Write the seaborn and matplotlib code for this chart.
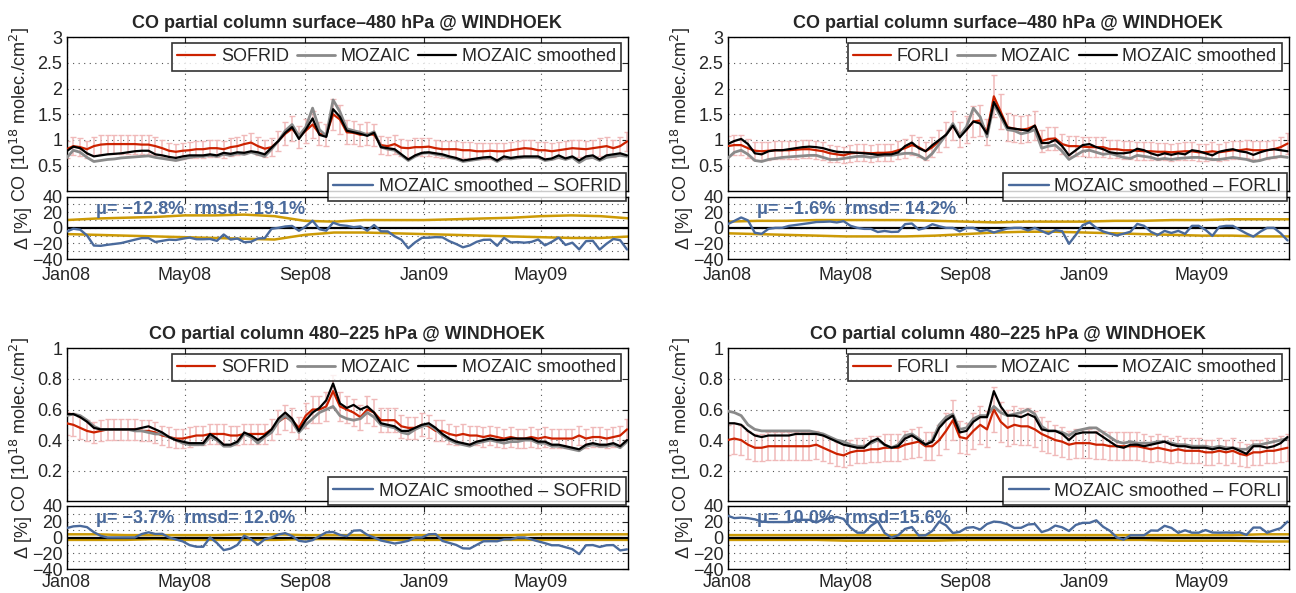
import numpy as np
import pandas as pd
import matplotlib
matplotlib.use('Agg')
import matplotlib.pyplot as plt
import matplotlib.dates as mdates
import seaborn as sns

sns.set_style('white')
plt.rcParams['font.family'] = ['Liberation Sans', 'DejaVu Sans']
plt.rcParams['axes.unicode_minus'] = True

# weekly samples, 1 Jan 2008 .. 28 Jul 2009
dates = pd.date_range('2008-01-01', periods=83, freq='7D')
bound_dates = pd.date_range('2008-01-01', periods=20, freq='MS')

# ---- panel 1: SOFRID, surface-480 hPa ----
p1_sat = [0.82, 0.88, 0.86, 0.82, 0.88, 0.91, 0.92, 0.92, 0.92, 0.92,
          0.92, 0.91, 0.91, 0.88, 0.84, 0.79, 0.77, 0.79, 0.80, 0.82,
          0.82, 0.84, 0.84, 0.82, 0.86, 0.88, 0.92, 0.95, 0.88, 0.83,
          0.86, 0.98, 1.12, 1.22, 1.06, 1.18, 1.30, 1.12, 1.10, 1.50,
          1.40, 1.15, 1.14, 1.10, 1.12, 1.10, 0.90, 0.88, 0.92, 0.85,
          0.84, 0.86, 0.86, 0.87, 0.84, 0.82, 0.82, 0.82, 0.80, 0.80,
          0.78, 0.78, 0.79, 0.78, 0.78, 0.80, 0.82, 0.84, 0.83, 0.80,
          0.80, 0.78, 0.80, 0.82, 0.84, 0.83, 0.82, 0.84, 0.86, 0.88,
          0.84, 0.88, 0.97]
p1_moz = [0.65, 0.80, 0.76, 0.66, 0.58, 0.60, 0.62, 0.63, 0.65, 0.66,
          0.67, 0.68, 0.69, 0.66, 0.64, 0.62, 0.60, 0.63, 0.66, 0.68,
          0.68, 0.70, 0.68, 0.72, 0.70, 0.74, 0.72, 0.76, 0.72, 0.68,
          0.82, 0.98, 1.18, 1.30, 1.08, 1.25, 1.62, 1.20, 1.08, 1.78,
          1.55, 1.22, 1.18, 1.15, 1.10, 1.16, 0.86, 0.82, 0.80, 0.70,
          0.60, 0.68, 0.74, 0.75, 0.72, 0.70, 0.66, 0.63, 0.58, 0.60,
          0.62, 0.64, 0.65, 0.58, 0.65, 0.63, 0.65, 0.66, 0.66, 0.66,
          0.60, 0.62, 0.66, 0.62, 0.66, 0.56, 0.64, 0.66, 0.60, 0.66,
          0.68, 0.70, 0.68]
p1_moz_sm = [0.78, 0.87, 0.84, 0.74, 0.68, 0.70, 0.72, 0.73, 0.74, 0.76,
             0.78, 0.79, 0.79, 0.72, 0.70, 0.67, 0.65, 0.68, 0.70, 0.70,
             0.70, 0.72, 0.70, 0.75, 0.73, 0.76, 0.75, 0.78, 0.76, 0.72,
             0.85, 0.98, 1.14, 1.25, 1.02, 1.20, 1.42, 1.10, 1.06, 1.60,
             1.45, 1.18, 1.15, 1.12, 1.08, 1.14, 0.86, 0.84, 0.82, 0.72,
             0.62, 0.70, 0.75, 0.76, 0.74, 0.72, 0.68, 0.65, 0.60, 0.62,
             0.64, 0.66, 0.67, 0.60, 0.68, 0.65, 0.67, 0.68, 0.68, 0.68,
             0.62, 0.64, 0.70, 0.64, 0.68, 0.60, 0.68, 0.70, 0.62, 0.70,
             0.72, 0.74, 0.70]
p1_bound_hi = [10, 12, 13, 14, 16, 16, 17, 15, 9, 8, 10, 10, 10, 11, 12, 13, 15, 16, 15, 12]
p1_bound_lo = [-8, -9, -10, -11, -12, -13, -14, -15, -9, -6, -6, -7, -8, -9, -10, -11, -12, -13, -13, -11]

# ---- panel 2: FORLI, surface-480 hPa ----
p2_sat = [0.88, 0.90, 0.90, 0.84, 0.79, 0.78, 0.79, 0.80, 0.80, 0.80,
          0.81, 0.82, 0.82, 0.80, 0.78, 0.74, 0.72, 0.70, 0.74, 0.75,
          0.75, 0.74, 0.75, 0.75, 0.76, 0.80, 0.84, 0.90, 0.86, 0.78,
          0.86, 0.98, 1.10, 1.28, 1.10, 1.20, 1.36, 1.38, 1.15, 1.85,
          1.55, 1.25, 1.22, 1.20, 1.22, 1.28, 0.98, 1.02, 1.03, 0.92,
          0.88, 0.88, 0.87, 0.86, 0.86, 0.86, 0.82, 0.82, 0.80, 0.80,
          0.79, 0.78, 0.78, 0.77, 0.77, 0.76, 0.77, 0.78, 0.78, 0.76,
          0.76, 0.78, 0.76, 0.78, 0.80, 0.80, 0.82, 0.80, 0.80, 0.80,
          0.82, 0.86, 0.93]
p2_moz = [0.64, 0.76, 0.80, 0.72, 0.60, 0.58, 0.62, 0.64, 0.66, 0.67,
          0.68, 0.69, 0.70, 0.70, 0.66, 0.62, 0.62, 0.64, 0.66, 0.68,
          0.68, 0.66, 0.68, 0.70, 0.70, 0.72, 0.74, 0.74, 0.70, 0.62,
          0.74, 0.92, 1.10, 1.32, 1.08, 1.26, 1.62, 1.45, 1.06, 1.70,
          1.45, 1.20, 1.18, 1.12, 1.15, 1.20, 0.84, 0.88, 0.90, 0.78,
          0.62, 0.70, 0.78, 0.80, 0.76, 0.72, 0.74, 0.70, 0.66, 0.64,
          0.70, 0.68, 0.66, 0.62, 0.64, 0.62, 0.64, 0.65, 0.66, 0.66,
          0.64, 0.62, 0.62, 0.64, 0.66, 0.64, 0.62, 0.58, 0.60, 0.64,
          0.66, 0.68, 0.66]
p2_moz_sm = [0.92, 0.98, 1.02, 0.92, 0.74, 0.72, 0.78, 0.80, 0.80, 0.82,
             0.84, 0.86, 0.87, 0.86, 0.84, 0.80, 0.77, 0.76, 0.76, 0.75,
             0.74, 0.73, 0.71, 0.72, 0.72, 0.76, 0.88, 0.95, 0.84, 0.78,
             0.90, 1.00, 1.10, 1.28, 1.05, 1.20, 1.36, 1.32, 1.12, 1.74,
             1.50, 1.24, 1.22, 1.20, 1.18, 1.28, 0.94, 0.94, 1.00, 0.88,
             0.70, 0.80, 0.90, 0.92, 0.86, 0.82, 0.76, 0.74, 0.74, 0.76,
             0.83, 0.80, 0.74, 0.70, 0.74, 0.71, 0.74, 0.72, 0.80, 0.78,
             0.74, 0.70, 0.77, 0.80, 0.82, 0.78, 0.76, 0.71, 0.76, 0.80,
             0.82, 0.80, 0.78]
p2_bound_hi = [8, 9, 9, 10, 10, 10, 10, 9, 8, 7, 8, 8, 8, 9, 9, 10, 10, 11, 11, 11]
p2_bound_lo = [-7, -8, -9, -10, -11, -11, -11, -10, -8, -6, -5, -5, -6, -7, -8, -9, -10, -10, -11, -11]

# ---- panel 3: SOFRID, 480-225 hPa ----
p3_sat = [0.51, 0.50, 0.48, 0.46, 0.45, 0.46, 0.47, 0.47, 0.47, 0.47,
          0.47, 0.46, 0.46, 0.45, 0.43, 0.42, 0.41, 0.41, 0.42, 0.43,
          0.43, 0.44, 0.44, 0.44, 0.43, 0.43, 0.44, 0.44, 0.44, 0.44,
          0.47, 0.52, 0.55, 0.53, 0.48, 0.56, 0.60, 0.60, 0.62, 0.72,
          0.62, 0.60, 0.58, 0.55, 0.60, 0.58, 0.53, 0.53, 0.53, 0.49,
          0.48, 0.48, 0.50, 0.49, 0.46, 0.46, 0.44, 0.43, 0.44, 0.43,
          0.43, 0.42, 0.43, 0.42, 0.41, 0.42, 0.41, 0.41, 0.42, 0.41,
          0.42, 0.41, 0.41, 0.41, 0.41, 0.43, 0.41, 0.42, 0.42, 0.41,
          0.42, 0.43, 0.47]
p3_moz = [0.56, 0.57, 0.56, 0.53, 0.49, 0.47, 0.47, 0.47, 0.47, 0.47,
          0.46, 0.46, 0.45, 0.44, 0.44, 0.42, 0.40, 0.38, 0.37, 0.37,
          0.37, 0.42, 0.40, 0.36, 0.36, 0.38, 0.44, 0.42, 0.38, 0.42,
          0.45, 0.52, 0.56, 0.52, 0.45, 0.50, 0.54, 0.58, 0.60, 0.62,
          0.56, 0.54, 0.53, 0.54, 0.58, 0.55, 0.50, 0.49, 0.48, 0.45,
          0.44, 0.47, 0.49, 0.50, 0.47, 0.43, 0.40, 0.38, 0.37, 0.36,
          0.38, 0.39, 0.40, 0.39, 0.38, 0.39, 0.39, 0.40, 0.40, 0.38,
          0.38, 0.36, 0.36, 0.35, 0.34, 0.33, 0.36, 0.37, 0.36, 0.36,
          0.37, 0.35, 0.39]
p3_moz_sm = [0.57, 0.57, 0.55, 0.52, 0.48, 0.47, 0.47, 0.47, 0.47, 0.47,
             0.47, 0.48, 0.49, 0.47, 0.45, 0.42, 0.40, 0.39, 0.38, 0.38,
             0.38, 0.44, 0.41, 0.37, 0.37, 0.39, 0.45, 0.43, 0.40, 0.43,
             0.47, 0.54, 0.58, 0.54, 0.46, 0.53, 0.58, 0.61, 0.66, 0.77,
             0.64, 0.61, 0.63, 0.60, 0.62, 0.58, 0.51, 0.50, 0.49, 0.46,
             0.46, 0.48, 0.50, 0.51, 0.48, 0.44, 0.41, 0.39, 0.38, 0.37,
             0.39, 0.40, 0.41, 0.40, 0.40, 0.41, 0.41, 0.41, 0.41, 0.39,
             0.39, 0.37, 0.37, 0.36, 0.35, 0.34, 0.37, 0.38, 0.37, 0.37,
             0.38, 0.36, 0.40]
p3_bound_hi = [4, 4, 3, 3, 3, 3, 4, 4, 3, 3, 3, 3, 3, 3, 3, 3, 4, 4, 4, 4]
p3_bound_lo = [-3, -3, -3, -2, -3, -3, -3, -3, -2, -2, -3, -3, -3, -3, -3, -3, -3, -3, -3, -3]

# ---- panel 4: FORLI, 480-225 hPa ----
p4_sat = [0.40, 0.41, 0.40, 0.37, 0.35, 0.35, 0.36, 0.36, 0.36, 0.36,
          0.36, 0.36, 0.36, 0.37, 0.35, 0.33, 0.31, 0.30, 0.32, 0.33,
          0.33, 0.34, 0.34, 0.35, 0.35, 0.35, 0.37, 0.38, 0.39, 0.36,
          0.36, 0.40, 0.46, 0.53, 0.42, 0.41, 0.46, 0.50, 0.47, 0.60,
          0.52, 0.48, 0.50, 0.49, 0.49, 0.47, 0.44, 0.42, 0.40, 0.39,
          0.37, 0.38, 0.38, 0.38, 0.37, 0.37, 0.36, 0.36, 0.36, 0.36,
          0.36, 0.35, 0.34, 0.35, 0.34, 0.33, 0.34, 0.33, 0.33, 0.33,
          0.32, 0.32, 0.33, 0.32, 0.33, 0.31, 0.30, 0.32, 0.32, 0.33,
          0.33, 0.34, 0.35]
p4_moz = [0.59, 0.58, 0.56, 0.50, 0.47, 0.46, 0.46, 0.46, 0.46, 0.46,
          0.46, 0.46, 0.46, 0.45, 0.44, 0.42, 0.40, 0.39, 0.37, 0.36,
          0.36, 0.38, 0.40, 0.37, 0.35, 0.37, 0.43, 0.44, 0.41, 0.37,
          0.40, 0.50, 0.55, 0.57, 0.47, 0.48, 0.54, 0.56, 0.56, 0.62,
          0.58, 0.56, 0.57, 0.58, 0.60, 0.57, 0.49, 0.46, 0.46, 0.45,
          0.43, 0.46, 0.47, 0.48, 0.48, 0.45, 0.42, 0.39, 0.38, 0.39,
          0.38, 0.38, 0.38, 0.39, 0.39, 0.38, 0.37, 0.37, 0.36, 0.36,
          0.36, 0.35, 0.36, 0.35, 0.35, 0.34, 0.34, 0.37, 0.37, 0.38,
          0.39, 0.40, 0.41]
p4_moz_sm = [0.51, 0.51, 0.50, 0.46, 0.43, 0.42, 0.43, 0.43, 0.43, 0.43,
             0.44, 0.44, 0.44, 0.44, 0.43, 0.41, 0.39, 0.37, 0.36, 0.35,
             0.35, 0.39, 0.41, 0.37, 0.35, 0.36, 0.41, 0.43, 0.40, 0.37,
             0.39, 0.48, 0.53, 0.56, 0.45, 0.46, 0.52, 0.55, 0.55, 0.72,
             0.62, 0.56, 0.56, 0.55, 0.57, 0.55, 0.47, 0.46, 0.46, 0.44,
             0.40, 0.44, 0.45, 0.45, 0.45, 0.42, 0.39, 0.36, 0.35, 0.37,
             0.37, 0.36, 0.37, 0.38, 0.39, 0.37, 0.36, 0.36, 0.35, 0.35,
             0.35, 0.34, 0.35, 0.34, 0.35, 0.33, 0.31, 0.36, 0.36, 0.35,
             0.36, 0.38, 0.42]
p4_bound_hi = [3, 3, 3, 3, 3, 3, 3, 3, 3, 3, 3, 3, 3, 3, 3, 3, 3, 3, 4, 4]
p4_bound_lo = [-3, -3, -3, -3, -4, -4, -4, -4, -3, -3, -3, -3, -3, -3, -3, -4, -4, -4, -5, -5]

sat_names = ['SOFRID', 'FORLI', 'SOFRID', 'FORLI']
titles = ['CO partial column surface\u2013480 hPa @ WINDHOEK'] * 2 + \
         ['CO partial column 480\u2013225 hPa @ WINDHOEK'] * 2
stats = ['\u03bc= \u221212.8%  rmsd= 19.1%', '\u03bc= \u22121.6%  rmsd= 14.2%',
         '\u03bc= \u22123.7%  rmsd= 12.0%', '\u03bc= 10.0%  rmsd=15.6%']
err_frac = [0.20, 0.22, 0.15, 0.25]   # relative retrieval error (pink bars)

RED, GRAY, BLUE, GOLD, PINK = '#CC2200', '#8A8A8A', '#4A6A9C', '#CC9A06', '#F0B9B9'
W, H = 1296, 593
cols = [(66.5, 628.0), (727.5, 1288.5)]
rows = [dict(main=(37.3, 191.3), delta=(196.7, 259.0), ymax=3, yt=[0.5, 1, 1.5, 2, 2.5, 3],
             ytl=['0.5', '1', '1.5', '2', '2.5', '3'], leg_y=0.028, xpad=6),
        dict(main=(348.3, 501.3), delta=(505.7, 569.3), ymax=1, yt=[0.2, 0.4, 0.6, 0.8, 1],
             ytl=['0.2', '0.4', '0.6', '0.8', '1'], leg_y=0.067, xpad=3.5)]


def rect(x0, x1, ytop, ybot):
    return [x0 / W, 1 - ybot / H, (x1 - x0) / W, (ybot - ytop) / H]


panels = [(p1_sat, p1_moz, p1_moz_sm, p1_bound_hi, p1_bound_lo),
          (p2_sat, p2_moz, p2_moz_sm, p2_bound_hi, p2_bound_lo),
          (p3_sat, p3_moz, p3_moz_sm, p3_bound_hi, p3_bound_lo),
          (p4_sat, p4_moz, p4_moz_sm, p4_bound_hi, p4_bound_lo)]

fig = plt.figure(figsize=(12.96, 5.93), dpi=100)
xlim = (pd.Timestamp('2008-01-01'), pd.Timestamp('2009-07-29'))
grid_kw = dict(ls=(0, (1, 4)), color='#555555', lw=0.8)

for i, (sat, moz, moz_sm, bhi, blo) in enumerate(panels):
    r, c = rows[i // 2], cols[i % 2]
    ax = fig.add_axes(rect(c[0], c[1], *r['main']))
    axd = fig.add_axes(rect(c[0], c[1], *r['delta']))
    sat, moz, moz_sm = np.array(sat), np.array(moz), np.array(moz_sm)

    # top: columns
    ax.errorbar(dates, sat, yerr=sat * err_frac[i], fmt='none', ecolor=PINK,
                elinewidth=1.1, capsize=2.5, capthick=1.0, zorder=1)
    sns.lineplot(x=dates, y=sat, color=RED, lw=1.6, ax=ax, label=sat_names[i], zorder=3)
    sns.lineplot(x=dates, y=moz, color=GRAY, lw=2.0, ax=ax, label='MOZAIC', zorder=4)
    sns.lineplot(x=dates, y=moz_sm, color='black', lw=1.6, ax=ax, label='MOZAIC smoothed', zorder=5)
    leg = ax.legend(ncol=3, loc='upper right', bbox_to_anchor=(0.988, 0.965), fontsize=13,
                    frameon=True, fancybox=False, edgecolor='black', handlelength=2.1,
                    handletextpad=0.3, columnspacing=0.45, borderpad=0.3, borderaxespad=0)
    leg.get_frame().set_linewidth(1.2)
    ax.set_ylim(0, r['ymax'])
    ax.set_yticks(r['yt'])
    ax.set_yticklabels(r['ytl'])
    ax.set_title(titles[i], fontsize=13, fontweight='bold', pad=7)
    ax.set_ylabel('CO [10$^{18}$ molec./cm$^2$]', fontsize=13)
    ax.yaxis.set_label_coords(-0.062, 0.5)

    # bottom: relative difference
    diff = (moz_sm - sat) / sat * 100
    sns.lineplot(x=bound_dates, y=bhi, color=GOLD, lw=1.8, ax=axd, zorder=2)
    sns.lineplot(x=bound_dates, y=blo, color=GOLD, lw=1.8, ax=axd, zorder=2)
    axd.axhline(0, color='black', lw=1.6, zorder=3)
    sns.lineplot(x=dates, y=diff, color=BLUE, lw=1.7, ax=axd,
                 label='MOZAIC smoothed \u2013 ' + sat_names[i], zorder=4)
    dleg = axd.legend(loc='center right', bbox_to_anchor=(1.0, r['leg_y']),
                      bbox_transform=ax.transAxes, fontsize=13, frameon=True, fancybox=False,
                      edgecolor='black', handlelength=2.2, handletextpad=0.3, borderpad=0.3,
                      borderaxespad=0.1)
    dleg.get_frame().set_linewidth(1.2)
    dleg.set_zorder(10)
    axd.text(0.053, 0.80, stats[i], transform=axd.transAxes, color=BLUE, fontsize=13,
             fontweight='bold', va='center', ha='left', zorder=6)
    axd.set_ylim(-40, 40)
    axd.set_yticks([-40, -20, 0, 20, 40])
    axd.set_yticks([-30, -10, 10, 30], minor=True)
    axd.grid(True, which='minor', axis='y', **grid_kw)
    axd.set_ylabel('\u0394 [%]', fontsize=13)
    axd.yaxis.set_label_coords(-0.062, 0.5)

    for a in (ax, axd):
        a.set_xlim(*xlim)
        a.xaxis.set_major_locator(mdates.MonthLocator(bymonth=[1, 5, 9]))
        a.xaxis.set_major_formatter(mdates.DateFormatter('%b%y'))
        a.tick_params(which='major', direction='in', top=True, right=True, length=4,
                      width=0.8, labelsize=13, pad=3)
        a.tick_params(axis='x', which='major', pad=r['xpad'])
        a.tick_params(which='minor', length=0)
        a.grid(True, which='major', **grid_kw)
        a.set_xlabel('')
        for s in a.spines.values():
            s.set_color('black')
            s.set_linewidth(1.0)
    ax.tick_params(labelbottom=False)

fig.savefig('out.png', dpi=100)
